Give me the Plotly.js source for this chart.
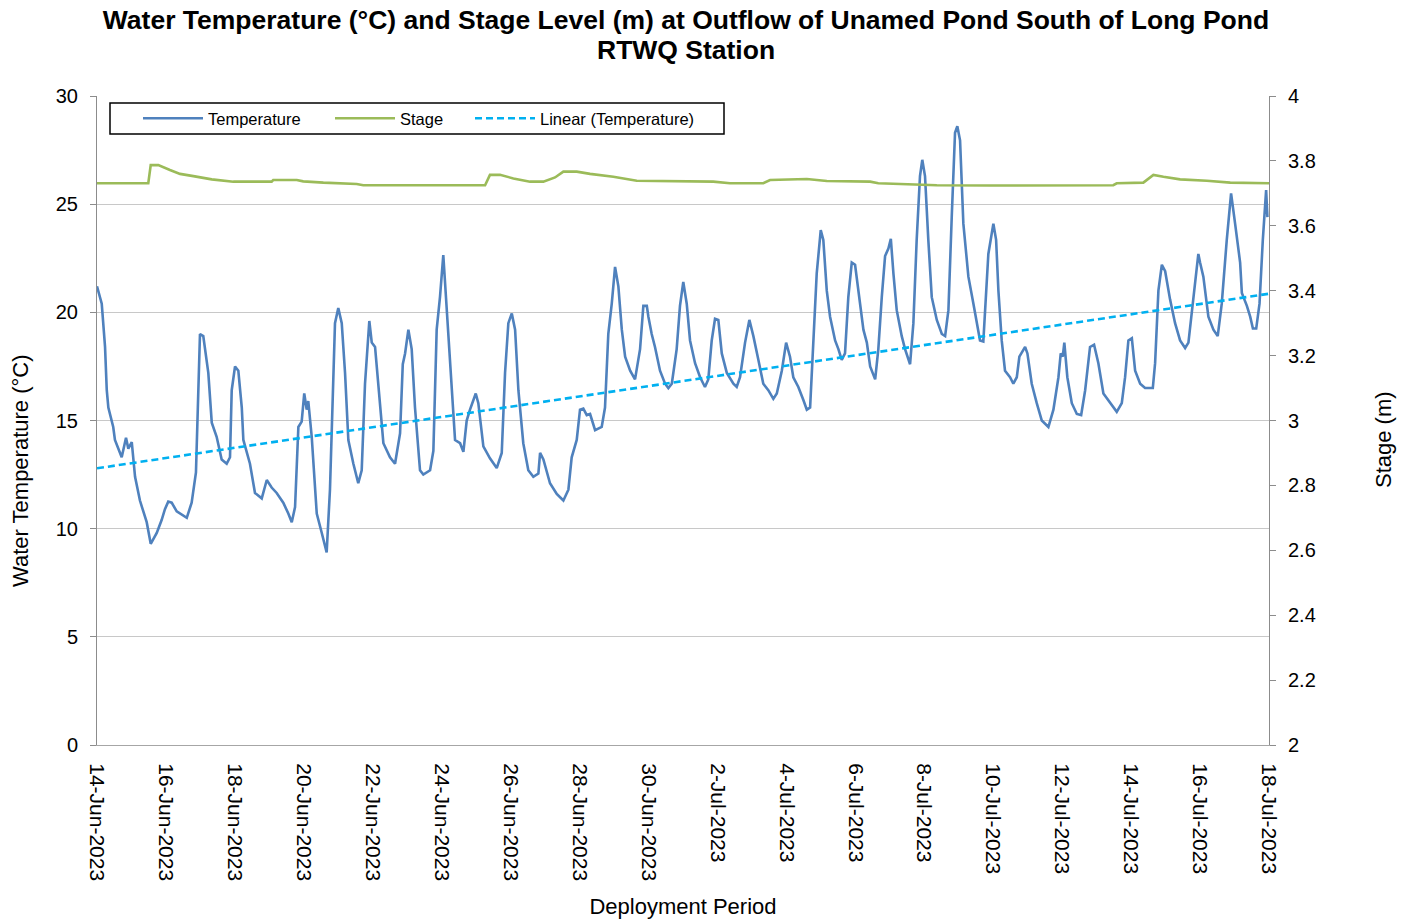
<!DOCTYPE html>
<html>
<head>
<meta charset="utf-8">
<script src="https://cdn.plot.ly/plotly-3.0.1.min.js"></script>
<style>
html,body{margin:0;padding:0;background:#fff;}
#chart{width:1410px;height:921px;}
</style>
</head>
<body>
<div id="chart"></div>
<script>
// ---- Data (hours after 14-Jun-2023 00:00) ----
const startDate = '2023-06-14';
const tempHours = [0,3.3,5.6,6.8,7.9,11.3,12.5,17.2,20.2,21.8,
24.2,26.5,29.9,34.6,37.4,41.6,45.0,47.3,49.6,52.0,
55.5,62.5,65.9,68.9,71.7,74.0,77.5,79.9,83.3,86.8,
90.3,92.6,93.8,96.1,98.4,100.8,101.9,106.5,110.0,114.7,
118.2,121.6,125.1,129.7,133.2,135.6,137.9,140.2,142.5,144.3,
146.0,147.1,149.5,153.0,156.5,159.9,162.2,165.7,168.0,170.4,
172.7,175.0,178.5,181.9,184.3,186.6,189.6,191.3,193.6,197.1,
199.4,204.0,207.5,211.0,212.9,214.5,216.8,219.1,221.4,224.9,
227.2,231.9,234.2,236.5,238.8,241.1,243.5,245.8,249.3,252.8,
255.1,257.4,259.7,263.7,265.5,269.0,273.6,278.3,281.8,284.1,
286.4,288.8,291.1,293.4,296.8,300.3,303.8,307.3,308.5,310.8,
313.1,315.4,320.1,324.7,328.2,330.5,334.0,336.3,338.6,341.0,
343.3,346.8,351.4,353.7,356.0,358.4,360.7,363.0,365.4,367.7,
371.2,374.6,378.1,380.4,382.8,383.9,386.2,388.5,392.0,395.5,
397.8,400.2,403.6,405.9,408.2,410.6,412.9,416.4,419.9,423.3,
425.6,428.0,430.3,432.6,435.0,438.5,443.1,445.4,447.7,451.2,
454.2,457.0,460.5,463.9,467.4,470.9,473.3,476.8,479.8,482.5,
484.8,488.3,491.8,494.2,496.5,498.8,501.1,503.9,505.7,508.1,
510.4,513.9,516.2,518.5,520.8,523.1,525.5,527.8,530.1,533.6,
536.0,538.3,541.8,544.0,546.4,548.7,551.0,552.7,554.5,556.8,
560.3,562.6,566.1,568.4,570.7,573.0,574.6,576.5,578.8,581.2,
584.7,588.2,590.5,592.8,595.1,597.4,599.0,600.9,603.2,606.7,
610.2,612.5,614.8,617.1,620.6,624.1,626.0,627.6,629.9,632.2,
635.7,638.0,640.4,642.2,646.2,647.8,650.8,654.3,657.8,662.4,
665.9,669.4,671.0,672.4,673.5,675.6,678.7,682.2,685.2,688.0,
691.4,694.2,697.2,700.7,705.4,710.0,713.5,715.8,718.1,720.5,
722.8,726.3,729.7,735.1,736.7,739.0,741.4,743.7,747.1,750.6,
754.1,757.6,759.9,762.3,764.6,766.8,768.0,770.3,773.8,777.3,
780.3,783.1,786.6,789.6,792.4,795.9,797.1,800.6,802.9,804.8,
807.1,809.4,811.7,814.0,814.9];
const tempValues = [21.2,20.4,18.4,16.4,15.6,14.7,14.1,13.3,14.2,13.7,
14.0,12.4,11.3,10.3,9.3,9.8,10.4,10.9,11.25,11.2,
10.8,10.5,11.2,12.6,19.0,18.9,17.2,14.9,14.25,13.2,
13.0,13.3,16.4,17.5,17.3,15.6,14.1,13.0,11.65,11.4,
12.25,11.9,11.65,11.2,10.7,10.3,11.0,14.7,14.95,16.25,
15.5,15.9,14.25,10.7,9.8,8.9,11.8,19.5,20.2,19.5,
17.2,14.1,13.0,12.1,12.7,16.7,19.6,18.6,18.4,15.6,
13.95,13.3,13.0,14.4,17.6,18.1,19.2,18.3,15.6,12.7,
12.5,12.7,13.6,19.2,20.7,22.65,20.3,17.95,14.1,13.95,
13.55,15.0,15.5,16.25,15.8,13.8,13.25,12.8,13.5,17.2,
19.5,19.95,19.2,16.4,13.95,12.7,12.4,12.55,13.5,13.2,
12.7,12.1,11.6,11.3,11.8,13.3,14.1,15.5,15.55,15.25,
15.3,14.55,14.7,15.6,19.0,20.4,22.1,21.2,19.2,17.95,
17.3,16.9,18.3,20.3,20.3,19.8,19.0,18.4,17.3,16.7,
16.5,16.7,18.3,20.3,21.4,20.4,18.7,17.65,17.0,16.55,
16.9,18.7,19.7,19.65,18.1,17.2,16.7,16.55,17.0,18.6,
19.65,18.9,17.8,16.7,16.4,16.0,16.25,17.3,18.6,17.95,
17.0,16.55,15.95,15.5,15.6,18.4,21.8,23.8,23.35,21.0,
19.8,18.7,18.3,17.8,18.1,20.7,22.3,22.2,21.0,19.2,
18.6,17.5,16.9,18.3,20.7,22.6,22.95,23.4,21.8,20.1,
18.9,18.3,17.6,19.5,23.35,26.3,27.05,26.3,23.35,20.7,
19.65,19.0,18.9,20.1,24.4,28.3,28.6,27.95,24.1,21.65,
20.4,19.5,18.7,18.65,22.7,24.1,23.35,21.0,18.7,17.3,
17.0,16.7,17.0,17.95,18.4,18.1,16.7,15.8,15.0,14.7,
15.5,17.0,18.1,17.95,18.6,17.0,15.8,15.3,15.25,16.4,
18.4,18.5,17.65,16.25,15.8,15.4,15.8,17.0,18.7,18.8,
17.3,16.7,16.5,16.5,17.65,21.0,22.2,21.9,20.6,19.5,
18.7,18.35,18.6,20.1,21.65,22.7,22.3,21.65,19.8,19.2,
18.9,20.4,23.35,25.5,24.1,22.3,20.9,20.3,19.8,19.25,
19.25,20.4,23.35,25.65,24.4];
const stageHours = [0,35.7,37.4,42.7,50.8,57.8,67.1,74.0,79.9,94.9,
121.6,122.7,139.1,143.6,157.6,180.8,185.4,270.2,273.6,280.6,
289.9,301.5,310.8,318.9,324.7,334.0,343.3,359.5,375.8,429.1,
440.7,463.9,468.6,494.2,508.1,538.3,544.0,584.7,621.8,707.6,
710.0,728.5,733.2,735.5,742.5,754.1,772.7,789.0,816];
const stageValues = [3.731,3.731,3.787,3.787,3.772,3.760,3.753,3.748,3.743,3.736,
3.736,3.741,3.741,3.737,3.733,3.729,3.725,3.725,3.757,3.757,
3.746,3.736,3.736,3.749,3.767,3.767,3.760,3.751,3.739,3.736,
3.731,3.731,3.741,3.744,3.738,3.736,3.731,3.725,3.724,3.725,
3.731,3.733,3.751,3.757,3.751,3.743,3.739,3.733,3.731];
const trendHours = [0, 816];
const trendValues = [12.79, 20.86];
const seriesNames = ['Temperature', 'Stage', 'Linear (Temperature)'];
const titleLine1 = 'Water Temperature (°C) and Stage Level (m) at Outflow of Unamed Pond South of Long Pond';
const titleLine2 = 'RTWQ Station';
const xTitle = 'Deployment Period';
const yTitle = 'Water Temperature (°C)';
const y2Title = 'Stage (m)';

// ---- helpers ----
const t0 = Date.UTC(2023, 5, 14);
function toDate(h) {
  return new Date(t0 + h * 3600000).toISOString().replace('T', ' ').replace('Z', '');
}
const FONT = '"Liberation Sans", Arial, sans-serif';

const traces = [
  {
    x: tempHours.map(toDate), y: tempValues, name: seriesNames[0],
    type: 'scatter', mode: 'lines', yaxis: 'y',
    line: {color: '#4f81bd', width: 2.6}, legend: 'legend'
  },
  {
    x: stageHours.map(toDate), y: stageValues, name: seriesNames[1],
    type: 'scatter', mode: 'lines', yaxis: 'y2',
    line: {color: '#9bbb59', width: 2.6}, legend: 'legend2'
  },
  {
    x: trendHours.map(toDate), y: trendValues, name: seriesNames[2],
    type: 'scatter', mode: 'lines', yaxis: 'y',
    line: {color: '#00b0f0', width: 2.6, dash: '7px,4px'}, legend: 'legend3'
  }
];

const W = 1410, H = 921, L = 97, R = 141, T = 96, B = 176;
const pw = W - L - R, ph = H - T - B;
const px = v => (v - L) / pw;
const py = v => (H - B - v) / ph;

function leg(x) {
  return {
    x: px(x), y: py(118.5), xanchor: 'left', yanchor: 'middle',
    orientation: 'h', bgcolor: 'rgba(0,0,0,0)', borderwidth: 0,
    font: {family: FONT, size: 16.5, color: '#000'}, itemwidth: 60
  };
}

const layout = {
  width: W, height: H,
  margin: {l: L, r: R, t: T, b: B, pad: 0},
  paper_bgcolor: '#fff', plot_bgcolor: '#fff',
  font: {family: FONT, color: '#000'},
  showlegend: true,
  title: {
    text: titleLine1,
    font: {family: FONT, size: 26.5, color: '#000', weight: 'bold'},
    x: px(686), xref: 'paper', xanchor: 'center',
    y: 1 - 20 / H, yref: 'container', yanchor: 'middle'
  },
  xaxis: {
    type: 'date',
    range: [toDate(0), toDate(816)],
    tick0: startDate, dtick: 2 * 86400000,
    tickformat: '%-d-%b-%Y', tickangle: 90,
    tickfont: {family: FONT, size: 21, color: '#000'},
    showgrid: false, zeroline: false,
    showline: true, linecolor: '#a6a6a6', linewidth: 1,
    ticks: '', ticklabelstandoff: 13,
    title: {text: xTitle, font: {family: FONT, size: 22, color: '#000'}, standoff: 18}
  },
  yaxis: {
    range: [0, 30], dtick: 5,
    tickfont: {family: FONT, size: 20, color: '#000'},
    showgrid: true, gridcolor: '#c8c8c8', gridwidth: 1,
    zeroline: false, showline: true, linecolor: '#8c8c8c', linewidth: 1,
    ticks: 'outside', ticklen: 6, tickcolor: '#8c8c8c',
    ticklabelstandoff: 8
  },
  yaxis2: {
    range: [2, 4], dtick: 0.2,
    overlaying: 'y', side: 'right', anchor: 'x',
    tickfont: {family: FONT, size: 20, color: '#000'},
    showgrid: false, zeroline: false,
    showline: true, linecolor: '#8c8c8c', linewidth: 1,
    ticks: 'outside', ticklen: 6, tickcolor: '#8c8c8c',
    ticklabelstandoff: 8
  },
  legend: leg(138),
  legend2: leg(330),
  legend3: leg(470),
  annotations: [
    {text: titleLine2, xref: 'paper', yref: 'paper', x: px(686), y: py(50),
     xanchor: 'center', yanchor: 'middle', showarrow: false,
     font: {family: FONT, size: 26.5, color: '#000', weight: 'bold'}},
    {text: yTitle, xref: 'paper', yref: 'paper', x: px(20), y: py(471),
     xanchor: 'center', yanchor: 'middle', showarrow: false, textangle: -90,
     font: {family: FONT, size: 22, color: '#000'}},
    {text: y2Title, xref: 'paper', yref: 'paper', x: px(1383), y: py(440),
     xanchor: 'center', yanchor: 'middle', showarrow: false, textangle: -90,
     font: {family: FONT, size: 22, color: '#000'}}
  ],
  shapes: [{
    type: 'rect', xref: 'paper', yref: 'paper',
    x0: px(110), x1: px(724), y0: py(134), y1: py(103),
    line: {color: '#000', width: 1.5}, fillcolor: 'rgba(0,0,0,0)', layer: 'above'
  }]
};

Plotly.newPlot('chart', traces, layout, {displayModeBar: false, responsive: false});
</script>
</body>
</html>
